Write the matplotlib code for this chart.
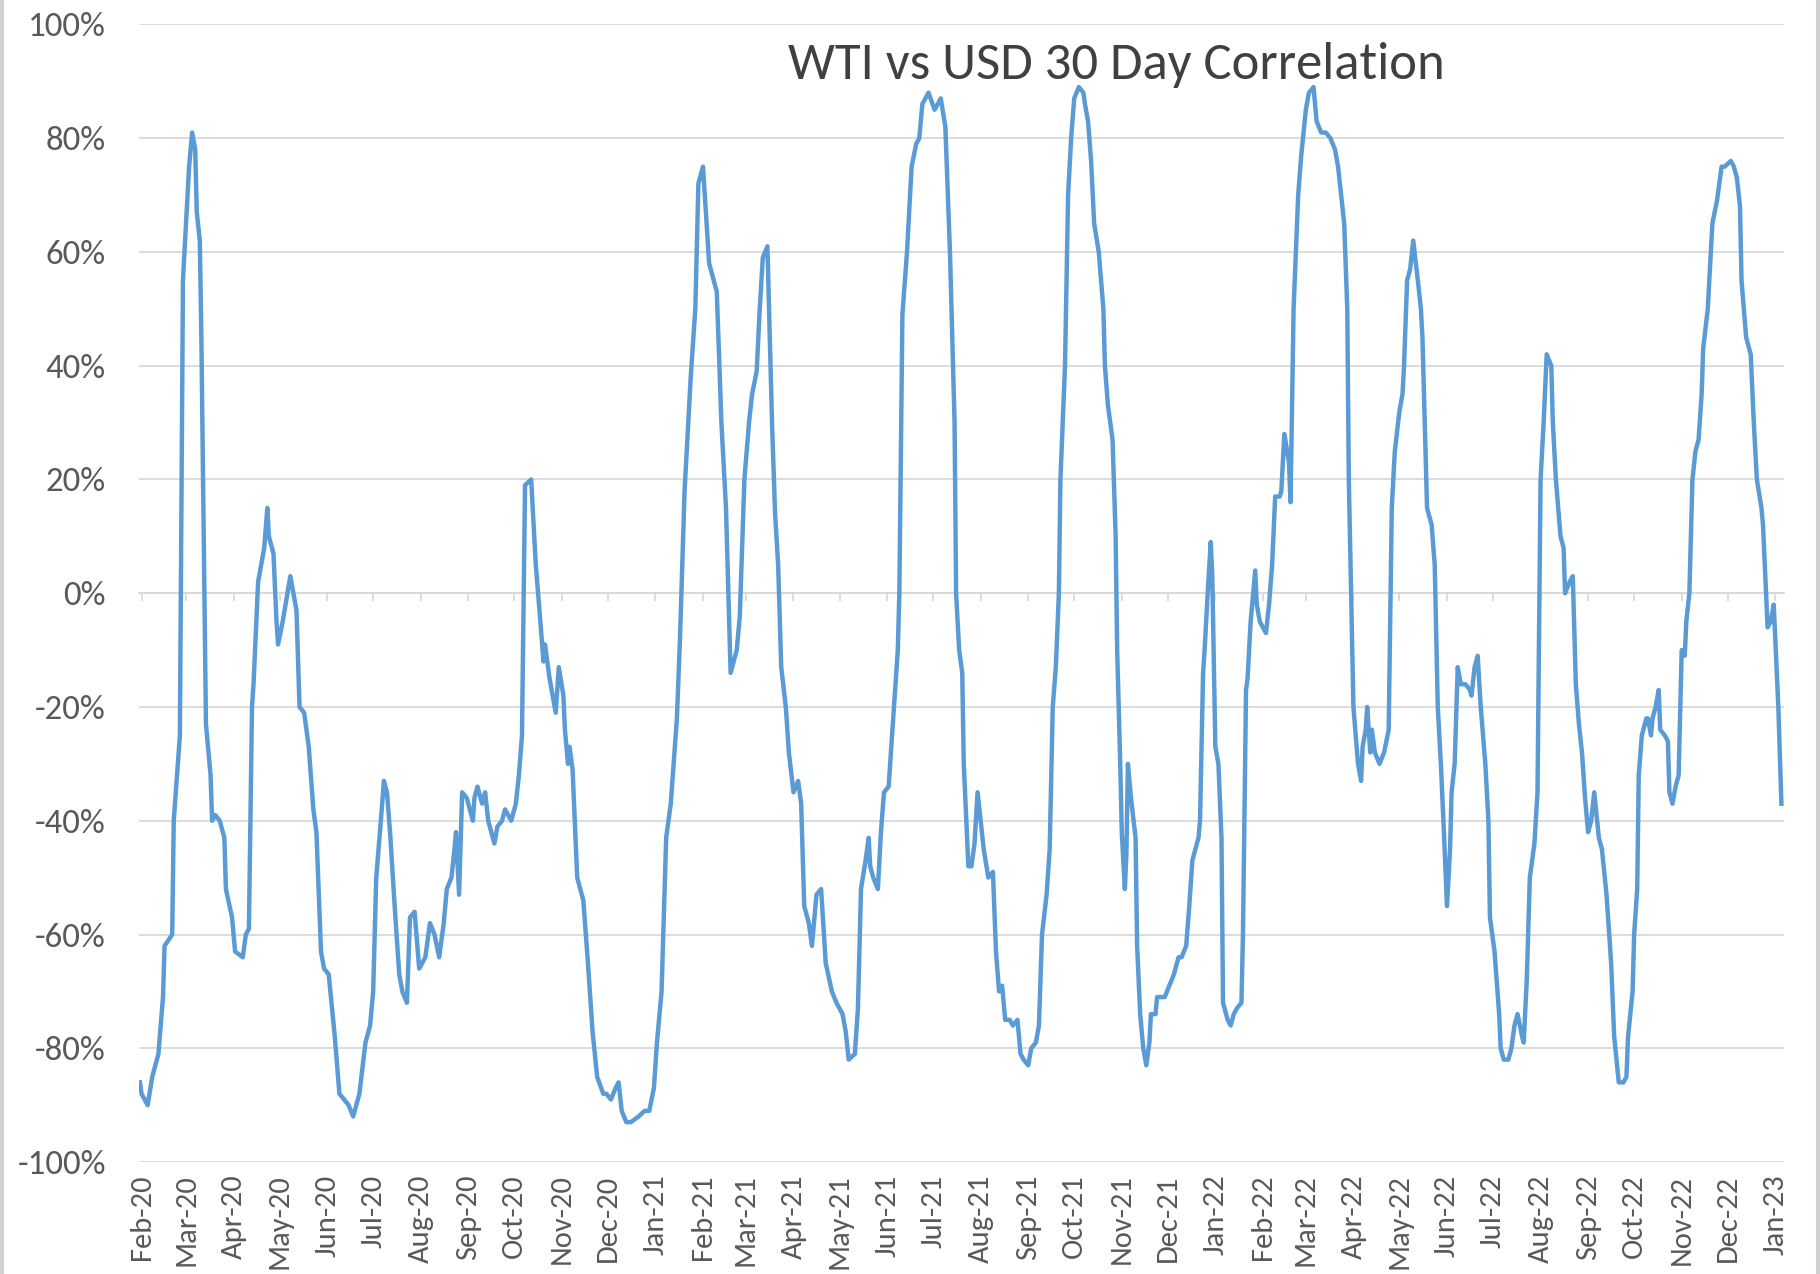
import matplotlib
matplotlib.use("Agg")
import matplotlib.pyplot as plt
import matplotlib.dates as mdates
from matplotlib.ticker import FuncFormatter, FixedLocator
from matplotlib import font_manager
from matplotlib.lines import Line2D
import pandas as pd

# ---------------- data ----------------
title = "WTI vs USD 30 Day Correlation"
y_ticks = [-100, -80, -60, -40, -20, 0, 20, 40, 60, 80, 100]

dates = [
    "2020-01-31", "2020-02-01", "2020-02-05", "2020-02-08", "2020-02-12", "2020-02-15", "2020-02-16",
    "2020-02-21", "2020-02-22", "2020-02-26", "2020-02-28", "2020-03-03", "2020-03-05", "2020-03-07",
    "2020-03-08", "2020-03-10", "2020-03-11", "2020-03-13", "2020-03-14", "2020-03-17", "2020-03-18",
    "2020-03-20", "2020-03-23", "2020-03-26", "2020-03-27", "2020-03-31", "2020-04-02", "2020-04-07",
    "2020-04-09", "2020-04-11", "2020-04-13", "2020-04-14", "2020-04-17", "2020-04-21", "2020-04-23",
    "2020-04-24", "2020-04-27", "2020-04-29", "2020-04-30", "2020-05-03", "2020-05-08", "2020-05-12",
    "2020-05-14", "2020-05-17", "2020-05-20", "2020-05-23", "2020-05-25", "2020-05-28", "2020-05-30",
    "2020-06-02", "2020-06-06", "2020-06-09", "2020-06-12", "2020-06-15", "2020-06-18", "2020-06-22",
    "2020-06-26", "2020-06-29", "2020-07-01", "2020-07-03", "2020-07-06", "2020-07-08", "2020-07-10",
    "2020-07-12", "2020-07-15", "2020-07-18", "2020-07-20", "2020-07-23", "2020-07-25", "2020-07-28",
    "2020-07-31", "2020-08-04", "2020-08-07", "2020-08-10", "2020-08-13", "2020-08-16", "2020-08-18",
    "2020-08-21", "2020-08-23", "2020-08-24", "2020-08-26", "2020-08-28", "2020-08-31", "2020-09-02",
    "2020-09-04", "2020-09-05", "2020-09-07", "2020-09-10", "2020-09-12", "2020-09-14", "2020-09-17",
    "2020-09-18", "2020-09-20", "2020-09-23", "2020-09-25", "2020-09-29", "2020-10-02", "2020-10-04",
    "2020-10-06", "2020-10-08", "2020-10-12", "2020-10-15", "2020-10-18", "2020-10-20", "2020-10-21",
    "2020-10-24", "2020-10-26", "2020-10-28", "2020-10-30", "2020-11-02", "2020-11-03", "2020-11-05",
    "2020-11-06", "2020-11-08", "2020-11-11", "2020-11-15", "2020-11-18", "2020-11-21", "2020-11-24",
    "2020-11-28", "2020-11-30", "2020-12-03", "2020-12-06", "2020-12-08", "2020-12-10", "2020-12-13",
    "2020-12-16", "2020-12-21", "2020-12-25", "2020-12-28", "2020-12-31", "2021-01-02", "2021-01-05",
    "2021-01-08", "2021-01-11", "2021-01-15", "2021-01-17", "2021-01-20", "2021-01-24", "2021-01-27",
    "2021-01-29", "2021-02-01", "2021-02-05", "2021-02-10", "2021-02-13", "2021-02-16", "2021-02-19",
    "2021-02-22", "2021-02-23", "2021-02-25", "2021-02-28", "2021-03-03", "2021-03-05", "2021-03-08",
    "2021-03-10", "2021-03-12", "2021-03-15", "2021-03-18", "2021-03-20", "2021-03-22", "2021-03-24",
    "2021-03-27", "2021-03-29", "2021-04-01", "2021-04-04", "2021-04-06", "2021-04-08", "2021-04-11",
    "2021-04-13", "2021-04-16", "2021-04-19", "2021-04-22", "2021-04-26", "2021-04-29", "2021-05-03",
    "2021-05-05", "2021-05-07", "2021-05-11", "2021-05-13", "2021-05-15", "2021-05-18", "2021-05-20",
    "2021-05-21", "2021-05-23", "2021-05-26", "2021-05-28", "2021-05-30", "2021-06-02", "2021-06-03",
    "2021-06-05", "2021-06-08", "2021-06-09", "2021-06-11", "2021-06-14", "2021-06-17", "2021-06-20",
    "2021-06-22", "2021-06-24", "2021-06-28", "2021-07-02", "2021-07-06", "2021-07-09", "2021-07-12",
    "2021-07-15", "2021-07-16", "2021-07-18", "2021-07-20", "2021-07-21", "2021-07-24", "2021-07-26",
    "2021-07-28", "2021-07-30", "2021-08-01", "2021-08-03", "2021-08-06", "2021-08-09", "2021-08-11",
    "2021-08-13", "2021-08-15", "2021-08-17", "2021-08-20", "2021-08-22", "2021-08-25", "2021-08-27",
    "2021-08-29", "2021-09-01", "2021-09-03", "2021-09-06", "2021-09-08", "2021-09-10", "2021-09-13",
    "2021-09-15", "2021-09-17", "2021-09-19", "2021-09-21", "2021-09-22", "2021-09-25", "2021-09-27",
    "2021-09-29", "2021-10-01", "2021-10-04", "2021-10-07", "2021-10-08", "2021-10-10", "2021-10-12",
    "2021-10-14", "2021-10-17", "2021-10-20", "2021-10-21", "2021-10-23", "2021-10-26", "2021-10-28",
    "2021-10-29", "2021-10-31", "2021-11-01", "2021-11-03", "2021-11-04", "2021-11-05", "2021-11-07",
    "2021-11-10", "2021-11-11", "2021-11-13", "2021-11-15", "2021-11-17", "2021-11-19", "2021-11-20",
    "2021-11-23", "2021-11-24", "2021-11-27", "2021-11-29", "2021-12-02", "2021-12-05", "2021-12-08",
    "2021-12-10", "2021-12-13", "2021-12-15", "2021-12-17", "2021-12-19", "2021-12-21", "2021-12-22",
    "2021-12-24", "2021-12-25", "2021-12-27", "2021-12-29", "2021-12-30", "2022-01-01", "2022-01-03",
    "2022-01-05", "2022-01-06", "2022-01-09", "2022-01-11", "2022-01-13", "2022-01-15", "2022-01-18",
    "2022-01-19", "2022-01-21", "2022-01-22", "2022-01-24", "2022-01-27", "2022-01-28", "2022-01-30",
    "2022-02-03", "2022-02-05", "2022-02-07", "2022-02-09", "2022-02-12", "2022-02-13", "2022-02-15",
    "2022-02-18", "2022-02-19", "2022-02-21", "2022-02-24", "2022-02-26", "2022-03-01", "2022-03-03",
    "2022-03-06", "2022-03-08", "2022-03-11", "2022-03-14", "2022-03-17", "2022-03-20", "2022-03-22",
    "2022-03-24", "2022-03-26", "2022-03-28", "2022-03-29", "2022-04-01", "2022-04-04", "2022-04-06",
    "2022-04-07", "2022-04-09", "2022-04-10", "2022-04-12", "2022-04-13", "2022-04-15", "2022-04-18",
    "2022-04-21", "2022-04-24", "2022-04-26", "2022-04-28", "2022-05-01", "2022-05-03", "2022-05-04",
    "2022-05-06", "2022-05-08", "2022-05-10", "2022-05-13", "2022-05-15", "2022-05-16", "2022-05-19",
    "2022-05-22", "2022-05-24", "2022-05-26", "2022-05-28", "2022-05-30", "2022-06-01", "2022-06-03",
    "2022-06-04", "2022-06-06", "2022-06-08", "2022-06-10", "2022-06-13", "2022-06-16", "2022-06-17",
    "2022-06-19", "2022-06-21", "2022-06-23", "2022-06-26", "2022-06-28", "2022-06-29", "2022-07-02",
    "2022-07-05", "2022-07-06", "2022-07-08", "2022-07-11", "2022-07-13", "2022-07-15", "2022-07-17",
    "2022-07-20", "2022-07-21", "2022-07-23", "2022-07-25", "2022-07-28", "2022-07-30", "2022-08-01",
    "2022-08-03", "2022-08-05", "2022-08-08", "2022-08-09", "2022-08-11", "2022-08-14", "2022-08-16",
    "2022-08-17", "2022-08-20", "2022-08-22", "2022-08-24", "2022-08-26", "2022-08-28", "2022-08-30",
    "2022-09-01", "2022-09-03", "2022-09-05", "2022-09-08", "2022-09-10", "2022-09-13", "2022-09-16",
    "2022-09-18", "2022-09-21", "2022-09-24", "2022-09-26", "2022-09-27", "2022-09-30", "2022-10-01",
    "2022-10-03", "2022-10-04", "2022-10-06", "2022-10-09", "2022-10-10", "2022-10-12", "2022-10-13",
    "2022-10-15", "2022-10-17", "2022-10-18", "2022-10-21", "2022-10-23", "2022-10-24", "2022-10-26",
    "2022-10-28", "2022-10-30", "2022-11-01", "2022-11-03", "2022-11-04", "2022-11-06", "2022-11-08",
    "2022-11-10", "2022-11-12", "2022-11-14", "2022-11-15", "2022-11-18", "2022-11-21", "2022-11-24",
    "2022-11-27", "2022-11-29", "2022-12-03", "2022-12-05", "2022-12-07", "2022-12-09", "2022-12-10",
    "2022-12-13", "2022-12-16", "2022-12-18", "2022-12-20", "2022-12-23", "2022-12-24", "2022-12-26",
    "2022-12-27", "2022-12-29", "2022-12-31", "2023-01-03", "2023-01-05",
]

correlation = [
    -86, -88, -90, -85, -81, -71, -62,
    -60, -40, -25, 55, 75, 81, 78,
    67, 62, 45, 0, -23, -32, -40,
    -39, -40, -43, -52, -57, -63, -64,
    -60, -59, -20, -16, 2, 8, 15,
    10, 7, -5, -9, -5, 3, -3,
    -20, -21, -27, -38, -42, -63, -66,
    -67, -78, -88, -89, -90, -92, -88,
    -79, -76, -70, -50, -40, -33, -35,
    -42, -55, -67, -70, -72, -57, -56,
    -66, -64, -58, -60, -64, -58, -52,
    -50, -45, -42, -53, -35, -36, -38,
    -40, -36, -34, -37, -35, -40, -43,
    -44, -41, -40, -38, -40, -37, -32,
    -25, 19, 20, 5, -5, -12, -9,
    -15, -18, -21, -13, -18, -24, -30,
    -27, -31, -50, -54, -65, -77, -85,
    -88, -88, -89, -87, -86, -91, -93,
    -93, -92, -91, -91, -87, -79, -70,
    -43, -37, -22, -8, 18, 38, 50,
    72, 75, 58, 53, 30, 15, -14,
    -11, -10, -4, 20, 30, 35, 39,
    50, 59, 61, 30, 14, 5, -13,
    -20, -28, -35, -33, -37, -55, -58,
    -62, -53, -52, -65, -70, -72, -74,
    -77, -82, -81, -73, -52, -47, -43,
    -48, -50, -52, -42, -35, -34, -30,
    -22, -10, 0, 49, 60, 75, 79,
    80, 86, 88, 85, 87, 82, 60,
    30, 0, -10, -14, -30, -48, -48,
    -44, -35, -40, -45, -50, -49, -63,
    -70, -69, -75, -75, -76, -75, -81,
    -82, -83, -80, -79, -76, -60, -53,
    -45, -20, -13, 0, 20, 40, 70,
    80, 87, 89, 88, 86, 83, 76,
    65, 60, 50, 40, 33, 27, 10,
    -10, -30, -42, -52, -46, -30, -36,
    -43, -62, -74, -80, -83, -79, -74,
    -74, -71, -71, -71, -69, -67, -64,
    -64, -62, -55, -47, -45, -43, -40,
    -14, -10, 0, 9, 3, -27, -30,
    -43, -72, -75, -76, -74, -73, -72,
    -60, -17, -15, -5, 4, -2, -5,
    -7, -2, 5, 17, 17, 18, 28,
    23, 16, 50, 70, 77, 85, 88,
    89, 83, 81, 81, 80, 78, 75,
    70, 65, 50, 20, -20, -30, -33,
    -27, -24, -20, -28, -24, -28, -30,
    -28, -24, 15, 25, 32, 35, 40,
    55, 57, 62, 55, 50, 45, 15,
    12, 5, -20, -30, -42, -55, -45,
    -35, -30, -13, -16, -16, -17, -18,
    -13, -11, -20, -30, -40, -57, -63,
    -74, -80, -82, -82, -80, -76, -74,
    -78, -79, -68, -50, -44, -35, 20,
    30, 42, 40, 30, 20, 10, 8,
    0, 2, 3, -16, -23, -28, -36,
    -42, -40, -35, -43, -45, -53, -65,
    -78, -86, -86, -85, -78, -70, -60,
    -52, -32, -25, -22, -22, -25, -22,
    -20, -17, -24, -25, -26, -35, -37,
    -34, -32, -10, -11, -5, 0, 20,
    25, 27, 35, 43, 50, 65, 69,
    75, 75, 76, 75, 73, 68, 55,
    45, 42, 30, 20, 15, 12, 0,
    -6, -5, -2, -20, -37,
]

x_start = "2020-01-30 12:00"
x_end = "2023-01-06 16:00"

# ---------------- style ----------------
def pick_font(names):
    for n in names:
        try:
            font_manager.findfont(font_manager.FontProperties(family=n), fallback_to_default=False)
            return n
        except Exception:
            continue
    return "DejaVu Sans"

FONT = pick_font(["Carlito", "Lato", "Open Sans"])
TEXT_COLOR = "#595959"
GRID_COLOR = "#D9D9D9"
LINE_COLOR = "#5B9BD5"

plt.rcParams["font.family"] = [FONT, "DejaVu Sans"]

fig = plt.figure(figsize=(18.2, 12.74), dpi=100)
ax = fig.add_axes([0.0765, 0.0879, 0.9037, 0.8929])

x = pd.to_datetime(dates)
ax.plot(x, correlation, color=LINE_COLOR, lw=3.2, solid_joinstyle="round", zorder=3)

ax.set_ylim(-100, 100)
ax.set_xlim(pd.Timestamp(x_start), pd.Timestamp(x_end))

ax.yaxis.set_major_locator(FixedLocator(y_ticks))
ax.yaxis.set_major_formatter(FuncFormatter(lambda v, p: f"{int(round(v))}%"))
ax.yaxis.grid(True, color=GRID_COLOR, lw=1.3)
ax.set_axisbelow(True)

ax.xaxis.set_major_locator(mdates.MonthLocator())
ax.xaxis.set_major_formatter(mdates.DateFormatter("%b-%y"))

for s in ax.spines.values():
    s.set_visible(False)

ax.tick_params(axis="y", length=0, pad=24, labelsize=25, labelcolor=TEXT_COLOR)
ax.tick_params(axis="x", length=0, pad=9, labelsize=22, labelcolor=TEXT_COLOR, labelrotation=90)

# horizontal axis line crossing at 0 with month tick marks
sec = ax.secondary_xaxis(0, transform=ax.transData)
sec.xaxis.set_major_locator(mdates.MonthLocator())
sec.xaxis.set_ticks_position("bottom")
sec.tick_params(axis="x", direction="out", length=6, width=1.3, color=GRID_COLOR,
                labelbottom=False, labeltop=False)
for s in sec.spines.values():
    s.set_color(GRID_COLOR)
    s.set_linewidth(1.3)

ax.text(0.594, 0.952, title, transform=ax.transAxes, ha="center", va="baseline",
        fontsize=38, color="#404040")

# chart-area border (left and right edges)
fig.add_artist(Line2D([0.001, 0.001], [0, 1], transform=fig.transFigure, color="#D0D0D0", lw=3))
fig.add_artist(Line2D([0.999, 0.999], [0, 1], transform=fig.transFigure, color="#D0D0D0", lw=3))

fig.savefig("out.png", dpi=100, facecolor="white")
